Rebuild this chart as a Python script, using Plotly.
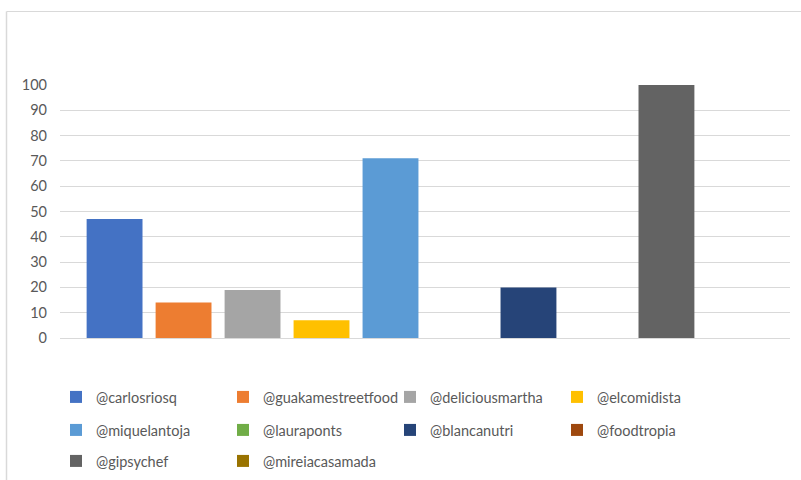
import plotly.graph_objects as go

# Accounts and their scores
accounts = [
    "@carlosriosq", "@guakamestreetfood", "@deliciousmartha", "@elcomidista",
    "@miquelantoja", "@lauraponts", "@blancanutri", "@foodtropia",
    "@gipsychef", "@mireiacasamada",
]
scores = [47, 14, 19, 7, 71, 0, 20, 0, 100, 0]
colors = [
    "#4472C4", "#ED7D31", "#A5A5A5", "#FFC000", "#5B9BD5",
    "#70AD47", "#264478", "#9E480E", "#636363", "#997300",
]
y_ticks = list(range(0, 101, 10))

# Legend rows (three rows of up to four entries)
legend_rows = ["legend", "legend", "legend", "legend",
               "legend2", "legend2", "legend2", "legend2",
               "legend3", "legend3"]

W, H = 801, 480
M_L, M_R, M_T, M_B = 60, 11, 85, 142
PW, PH = W - M_L - M_R, H - M_T - M_B

FONT = "Lato"
TXT = "#595959"
GRID = "#D9D9D9"

fig = go.Figure()
for name, val, col, lg in zip(accounts, scores, colors, legend_rows):
    fig.add_trace(go.Bar(
        x=[""], y=[val], name=name, legend=lg,
        marker=dict(color=col, line=dict(width=0)),
        hoverinfo="name+y",
    ))


def px_x(p):
    return (p - M_L) / PW


def px_y(p):
    return (H - M_B - p) / PH


legend_common = dict(
    orientation="h", xanchor="left", yanchor="middle",
    font=dict(family=FONT, size=14.5, color=TXT),
    entrywidth=122, entrywidthmode="pixels",
    bgcolor="rgba(0,0,0,0)", itemclick=False, itemdoubleclick=False,
)

fig.update_layout(
    width=W, height=H,
    margin=dict(l=M_L, r=M_R, t=M_T, b=M_B, pad=0, autoexpand=False),
    paper_bgcolor="white", plot_bgcolor="white",
    barmode="group", bargap=0.055, bargroupgap=0.19,
    font=dict(family=FONT, color=TXT),
    showlegend=True,
    legend=dict(x=px_x(56), y=px_y(397), **legend_common),
    legend2=dict(x=px_x(56), y=px_y(430), **legend_common),
    legend3=dict(x=px_x(56), y=px_y(461), **legend_common),
    xaxis=dict(showticklabels=False, showgrid=False, zeroline=False,
               showline=False, fixedrange=True),
    yaxis=dict(range=[0, 100], tickvals=y_ticks, showgrid=True,
               gridcolor=GRID, gridwidth=1, zeroline=True,
               zerolinecolor=GRID, zerolinewidth=1, showline=False,
               tickfont=dict(family=FONT, size=14.5, color=TXT),
               ticklabelstandoff=12, fixedrange=True),
    shapes=[
        # chart frame (top and left edges)
        dict(type="line", xref="paper", yref="paper",
             x0=px_x(6.5), x1=px_x(W + 5), y0=px_y(11.5), y1=px_y(11.5),
             line=dict(color=GRID, width=1)),
        dict(type="line", xref="paper", yref="paper",
             x0=px_x(6.5), x1=px_x(6.5), y0=px_y(11.5), y1=px_y(H + 5),
             line=dict(color=GRID, width=1.5)),
    ],
)

fig.write_html("out.html")
